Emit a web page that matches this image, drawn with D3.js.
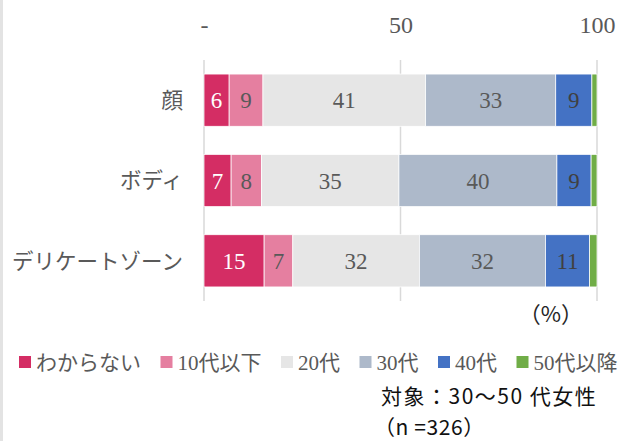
<!DOCTYPE html>
<html>
<head>
<meta charset="utf-8">
<script src="https://cdn.jsdelivr.net/npm/d3@7"></script>
<style>
    body { margin: 0; background: #fff; }
    svg { display: block; }
    .serif { font-family: 'Liberation Serif', 'Noto Sans CJK JP', serif; }
    .sans { font-family: 'Noto Sans CJK JP', 'Noto Sans', sans-serif; }
</style>
</head>
<body>
<div id="chart"></div>
<script>
// categories (rows) and series (age groups)
const categories = ['顔', 'ボディ', 'デリケートゾーン'];
const groups = ['わからない', '10代以下', '20代', '30代', '40代', '50代以降'];

// share of answers per row, in %
const unknown = [6.4, 6.9, 15.3];
const teensOrLess = [8.6, 7.7, 7.3];
const twenties = [41.4, 35.0, 32.2];
const thirties = [33.1, 40.2, 32.1];
const forties = [9.2, 8.7, 11.2];
const fiftiesPlus = [1.3, 1.5, 1.9];

const tickValues = [0, 50, 100];
const unitLabel = '（%）';
const noteLines = ['対象：30～50 代女性', '（n =326）'];

const colors = ['#d42d64', '#e57fa0', '#e6e6e6', '#adb9ca', '#4472c4', '#70ad47'];
const labelColors = ['#ffffff', '#595959', '#595959', '#595959', '#404040', '#595959'];

class StackedBar {

    constructor(_config) {
        this.config = {
            parentElement: _config.parentElement,
            containerWidth: _config.containerWidth || 633,
            containerHeight: _config.containerHeight || 441
        };
        this.initVis();
    }

    initVis() {
        let vis = this;

        // one row object per category, built from the series arrays
        let series = [unknown, teensOrLess, twenties, thirties, forties, fiftiesPlus];
        vis.data = categories.map((c, i) => {
            let row = { category: c };
            groups.forEach((g, j) => { row[g] = series[j][i]; });
            return row;
        });
        vis.stacked = d3.stack().keys(groups)(vis.data);

        vis.svg = d3.select(vis.config.parentElement).append('svg')
            .attr('width', vis.config.containerWidth)
            .attr('height', vis.config.containerHeight);

        // faint frame line at the left edge
        vis.svg.append('line')
            .attr('x1', 1.5).attr('x2', 1.5)
            .attr('y1', 0).attr('y2', vis.config.containerHeight)
            .attr('stroke', '#e3e3e3')
            .attr('stroke-width', 3);

        vis.xScale = d3.scaleLinear()
            .domain([0, 100])
            .range([204, 597]);

        vis.yScale = d3.scaleBand()
            .domain(categories)
            .range([60, 301])
            .paddingInner(0.35)
            .paddingOuter(0.175);

        vis.colorScale = d3.scaleOrdinal().domain(groups).range(colors);
        vis.labelColor = d3.scaleOrdinal().domain(groups).range(labelColors);

        // vertical gridlines
        vis.svg.append('g')
            .selectAll('line')
            .data(tickValues)
            .join('line')
            .attr('x1', d => vis.xScale(d))
            .attr('x2', d => vis.xScale(d))
            .attr('y1', 60)
            .attr('y2', 301)
            .attr('stroke', '#d9d9d9')
            .attr('stroke-width', 1.5);

        // top axis, 0 is shown as "-"
        vis.xAxis = d3.axisTop(vis.xScale)
            .tickValues(tickValues)
            .tickSize(0)
            .tickPadding(0)
            .tickFormat(d => d === 0 ? '-' : d);

        vis.xAxisGroup = vis.svg.append('g')
            .attr('class', 'axis x-axis serif')
            .attr('transform', 'translate(0, 33)')
            .call(vis.xAxis);
        vis.xAxisGroup.select('.domain').remove();
        vis.xAxisGroup.selectAll('text')
            .attr('font-size', 24)
            .attr('fill', '#595959')
            .attr('dy', 0);

        // category labels
        vis.svg.append('g')
            .selectAll('text')
            .data(categories)
            .join('text')
            .attr('class', 'serif')
            .attr('x', 183)
            .attr('y', d => vis.yScale(d) + vis.yScale.bandwidth() / 2)
            .attr('dy', '0.36em')
            .attr('text-anchor', 'end')
            .attr('font-size', 21.5)
            .attr('fill', '#595959')
            .text(d => d);

        vis.renderVis();
    }

    renderVis() {
        let vis = this;

        let layers = vis.svg.append('g')
            .selectAll('g')
            .data(vis.stacked)
            .join('g')
            .attr('fill', d => vis.colorScale(d.key));

        layers.selectAll('rect')
            .data(d => d)
            .join('rect')
            .attr('x', d => vis.xScale(d[0]))
            .attr('y', d => vis.yScale(d.data.category))
            .attr('width', d => vis.xScale(d[1]) - vis.xScale(d[0]))
            .attr('height', vis.yScale.bandwidth())
            .attr('stroke', '#ffffff')
            .attr('stroke-width', 0.75);

        // value labels (too small segments are left blank)
        vis.stacked.forEach(layer => {
            vis.svg.append('g')
                .selectAll('text')
                .data(layer.filter(d => d[1] - d[0] >= 3))
                .join('text')
                .attr('class', 'serif')
                .attr('x', d => vis.xScale((d[0] + d[1]) / 2))
                .attr('y', d => vis.yScale(d.data.category) + vis.yScale.bandwidth() / 2)
                .attr('dy', '0.35em')
                .attr('text-anchor', 'middle')
                .attr('font-size', 23)
                .attr('fill', vis.labelColor(layer.key))
                .text(d => Math.round(d[1] - d[0]));
        });

        // unit
        vis.svg.append('text')
            .attr('class', 'sans')
            .attr('x', 551)
            .attr('y', 322)
            .attr('text-anchor', 'middle')
            .attr('font-size', 22)
            .attr('fill', '#262626')
            .text(unitLabel);

        // legend, laid out left to right
        let legend = vis.svg.append('g').attr('class', 'legend serif');
        let x = 19;
        groups.forEach(g => {
            legend.append('rect')
                .attr('x', x)
                .attr('y', 356)
                .attr('width', 12)
                .attr('height', 12)
                .attr('fill', vis.colorScale(g));
            let t = legend.append('text')
                .attr('x', x + 17)
                .attr('y', 362)
                .attr('dy', '0.36em')
                .attr('font-size', 21)
                .attr('fill', '#595959')
                .text(g);
            x += 17 + t.node().getComputedTextLength() + 19.5;
        });

        // note
        vis.svg.append('g')
            .selectAll('text')
            .data(noteLines)
            .join('text')
            .attr('class', 'sans')
            .attr('x', (d, i) => i === 0 ? 381 : 374)
            .attr('y', (d, i) => 404 + i * 31)
            .attr('font-size', 21)
            .attr('letter-spacing', (d, i) => i === 0 ? 1.5 : 0.6)
            .attr('fill', '#111111')
            .text(d => d);
    }
}

new StackedBar({ parentElement: '#chart' });
</script>
</body>
</html>
